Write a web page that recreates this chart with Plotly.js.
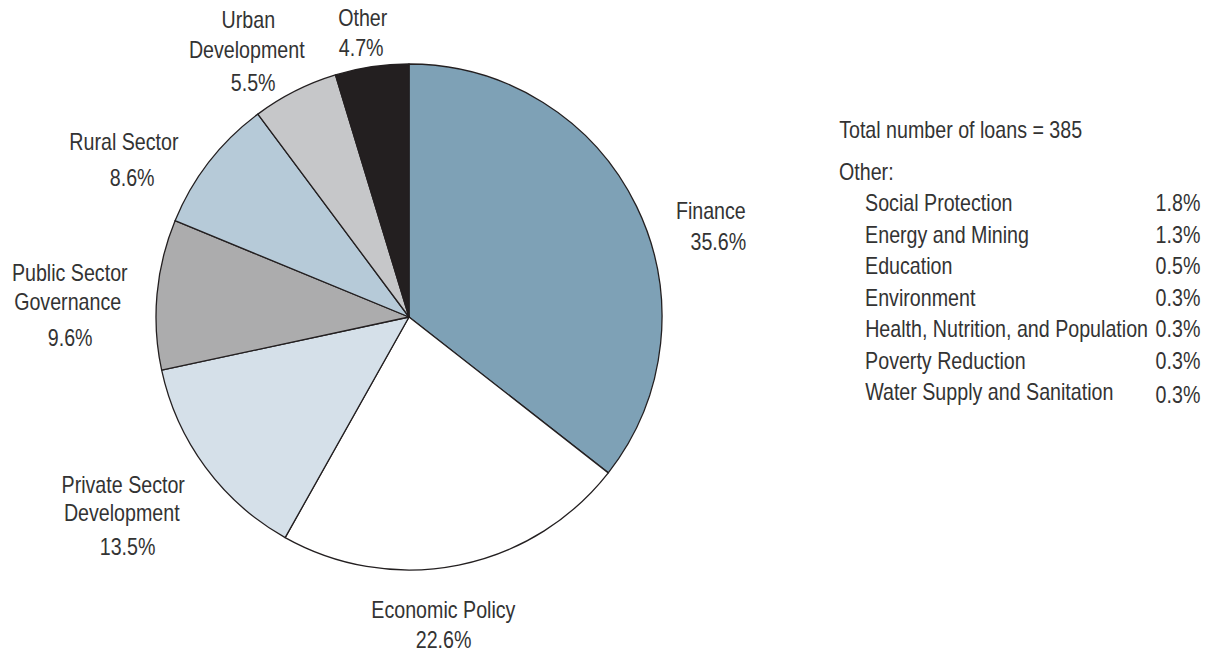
<!DOCTYPE html>
<html>
<head>
<meta charset="utf-8">
<script src="https://cdn.plot.ly/plotly-3.0.1.min.js"></script>
<style>
  html, body { margin: 0; padding: 0; background: #fff; }
  #chart { width: 1212px; height: 654px; }
</style>
</head>
<body>
<div id="chart"></div>
<script>
// ---- data ----
const categories = ["Finance", "Economic Policy", "Private Sector Development",
  "Public Sector Governance", "Rural Sector", "Urban Development", "Other"];
const shares = [35.6, 22.6, 13.5, 9.6, 8.6, 5.5, 4.7];
const otherCategories = ["Social Protection", "Energy and Mining", "Education",
  "Environment", "Health, Nutrition, and Population", "Poverty Reduction",
  "Water Supply and Sanitation"];
const otherShares = [1.8, 1.3, 0.5, 0.3, 0.3, 0.3, 0.3];
const totalLoans = 385;

// ---- style ----
const sliceColors = ["#7ea1b6", "#ffffff", "#d5e0e9", "#acacad", "#b6cad8", "#c6c7c9", "#231f20"];
const W = 1212, H = 654;
const FONT = "Liberation Sans, Arial, sans-serif";
const TXT = "#333333";
const FS = 23;
const SQUEEZE = 0.855;   // horizontal condensing of the label font
const px = x => x / W;
const py = y => 1 - y / H;

// label placement per slice (pixel positions)
const labelPlacement = [
  { lines: ["Finance"], xs: [748], ys: [211], px: 748, py: 242, anchor: "right" },
  { lines: ["Economic Policy"], xs: [443], ys: [610], px: 443, py: 640, anchor: "center" },
  { lines: ["Private Sector", "Development"], xs: [123, 122], ys: [485, 513], px: 127, py: 547, anchor: "center" },
  { lines: ["Public Sector", "Governance"], xs: [70, 67], ys: [273, 302], px: 70, py: 338, anchor: "center" },
  { lines: ["Rural Sector"], xs: [124], ys: [142], px: 132, py: 178, anchor: "center" },
  { lines: ["Urban", "Development"], xs: [248, 247], ys: [20, 50], px: 253, py: 83, anchor: "center" },
  { lines: ["Other"], xs: [363], ys: [18], px: 361, py: 48, anchor: "center" }
];

const annotations = [];
function addText(text, x, y, anchor) {
  annotations.push({
    text: text, xref: "paper", yref: "paper", x: px(x), y: py(y),
    xanchor: anchor, yanchor: "middle", showarrow: false,
    font: { family: FONT, size: FS, color: TXT }
  });
}

categories.forEach((c, i) => {
  const p = labelPlacement[i];
  p.lines.forEach((ln, j) => addText(ln, p.xs[j], p.ys[j], p.anchor));
  addText(shares[i].toFixed(1) + "%", p.px, p.py, p.anchor);
});

// right-hand table
addText("Total number of loans = " + totalLoans, 837, 130, "left");
addText("Other:", 837, 172, "left");
const rowY0 = 203, rowStep = 31.5;
otherCategories.forEach((c, i) => {
  addText(c, 863, rowY0 + i * rowStep, "left");
  addText(otherShares[i].toFixed(1) + "%", 1202, rowY0 + i * rowStep + (i === otherCategories.length - 1 ? 3 : 0), "right");
});

const trace = {
  type: "pie",
  labels: categories,
  values: shares,
  sort: false,
  direction: "clockwise",
  rotation: 0,
  textinfo: "none",
  hoverinfo: "none",
  showlegend: false,
  marker: { colors: sliceColors, line: { color: "#231f20", width: 1.3 } },
  domain: { x: [px(156), px(662)], y: [py(570), py(64)] }
};

const layout = {
  width: W, height: H,
  margin: { l: 0, r: 0, t: 0, b: 0 },
  paper_bgcolor: "#ffffff",
  plot_bgcolor: "#ffffff",
  showlegend: false,
  annotations: annotations
};

Plotly.newPlot("chart", [trace], layout, { displayModeBar: false, staticPlot: true }).then(() => {
  // condense label text horizontally, keeping each anchor edge fixed
  annotations.forEach((a, i) => {
    const g = document.querySelector('#chart g.annotation[data-index="' + i + '"]');
    if (!g) return;
    const t = g.querySelector('text.annotation-text');
    if (!t) return;
    const origin = a.xanchor === "left" ? "left" : (a.xanchor === "right" ? "right" : "center");
    t.style.transformBox = "fill-box";
    t.style.transformOrigin = origin + " center";
    t.style.transform = "scaleX(" + SQUEEZE + ")";
  });
});
</script>
</body>
</html>
